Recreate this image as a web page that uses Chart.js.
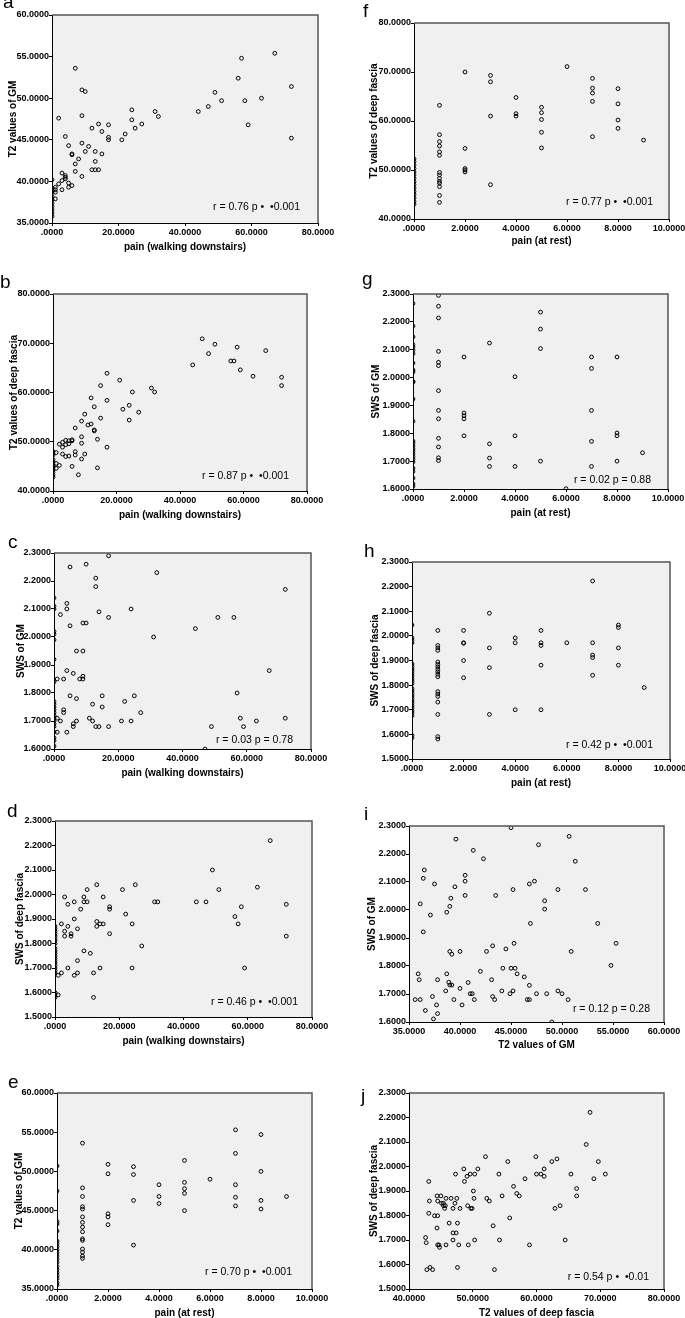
<!DOCTYPE html>
<html>
<head>
<meta charset="utf-8">
<script src="https://cdn.jsdelivr.net/npm/chart.js@4.4.1/dist/chart.umd.min.js"></script>
<style>
	body { margin: 0; background: #fff; }
	#fig { position: relative; width: 685px; height: 1318px; overflow: hidden; }
	.panel { position: absolute; }
	.letter { position: absolute; font: 19px "Liberation Sans", Arial, sans-serif; line-height: 19px; color: #000; }
</style>
</head>
<body>
<div id="fig"></div>
<script>
// --- data ---
// a: pain (walking downstairs) vs T2 of GM
const aWalk = [7,67,57,56,72,9,10,49,51,58, 63,47,44,31,32,24,24,9,2,27, 25,14,17,12,15,59,72,17,17,21, 22,4,5,9,11,6,6,10,13,15, 8,7,13,7,12,13,14,9,3,4, 4,4,3,2,5,6,5,3,1,1, 1,1,0,0,0,0,0,0,0,0, 0,0];
const aT2GM = [53.6,55.4,54.8,52.4,51.4,51.0,50.8,50.7,49.7,49.7, 50.0,49.0,48.4,48.4,47.8,48.6,47.4,47.9,47.6,46.9, 46.4,46.9,46.8,46.4,46.0,46.8,45.2,45.3,45.0,45.0, 45.7,45.4,44.3,44.6,44.2,43.3,43.2,43.6,43.6,43.3, 42.7,42.1,42.4,41.2,41.4,41.4,41.4,40.6,41.0,40.7, 40.5,40.3,40.1,39.7,39.8,39.5,39.3,39.0,39.3,39.0, 38.7,37.9,40.2,39.2,38.7,38.2,37.8,37.4,37.0,36.6, 36.2,35.8];

// b: pain (walking downstairs) vs T2 of deep fascia
const bWalk = [47,51,49,58,67,44,56,57,59,63, 72,72,31,32,17,21,15,25,12,17, 24,22,27,13,10,15,24,9,12,11, 13,13,7,14,9,9,17,10,7,7, 9,14,6,8,3,4,5,6,6,2, 3,4,5,3,4,5,1,2,1,1, 0,0,0,0,0,0,0,0,0,0];
const bT2DF = [70.9,69.8,67.9,69.2,68.5,65.6,66.4,66.4,64.6,63.3, 63.1,61.4,60.9,60.1,63.9,62.5,61.4,60.1,58.9,58.4, 57.4,56.6,56.0,57.1,55.6,54.8,54.4,54.2,53.6,53.4, 52.4,52.2,52.8,50.5,51.0,49.7,48.9,47.5,48.0,47.3, 46.5,44.7,45.0,43.3,49.9,50.3,50.2,50.4,50.2,49.5, 48.9,49.4,49.6,47.5,47.0,47.1,47.8,45.2,45.6,44.6, 48.0,47.3,46.4,45.8,45.3,44.8,44.3,43.8,43.3,42.8];

// c: pain (walking downstairs) vs SWS of GM
const cWalk = [17,10,5,32,13,13,72,4,4,2, 14,24,17,51,56,5,9,10,44,31, 7,9,4,6,1,3,8,9,9,67, 57,5,15,25,7,22,12,15,3,3, 27,11,1,58,72,7,2,12,21,24, 63,6,6,13,14,17,49,59,1,4, 47, 0,0,0,0,0,0,0,0,0,0, 0,0,0,0,0,0,0,0,0,0, 0,0];
const cSWS = [2.29,2.26,2.25,2.23,2.21,2.18,2.17,2.12,2.10,2.08, 2.09,2.10,2.07,2.07,2.07,2.04,2.05,2.05,2.03,2.00, 1.95,1.95,1.88,1.87,1.85,1.85,1.85,1.85,1.86,1.88, 1.80,1.79,1.79,1.79,1.78,1.77,1.76,1.75,1.74,1.73, 1.73,1.71,1.71,1.71,1.71,1.70,1.70,1.70,1.70,1.70, 1.70,1.69,1.68,1.68,1.68,1.68,1.68,1.68,1.66,1.66, 1.60, 2.14,2.11,2.10,2.02,2.01,1.99,1.92,1.84,1.77,1.76, 1.75,1.74,1.73,1.72,1.71,1.70,1.69,1.68,1.66,1.64, 1.63,1.61];

// d: pain (walking downstairs) vs SWS of deep fascia
const dWalk = [67,49,63,51,25,21,13,10,3,9, 15,6,9,10,31,32,44,47,72,4, 17,17,8,58,22,56,6,13,2,14, 15,24,57,13,4,3,7,17,5,5, 3,72,27,9,11,7,4,14,24,59, 7,12,6,2,1,1,12, 0,0,0,0,0,0,0,0,0,0, 0,0,0,0,0,0,0,0,0,0, 0,0];
const dSWS = [2.22,2.10,2.03,2.02,2.04,2.02,2.04,2.02,1.99,1.99, 1.99,1.97,1.97,1.97,1.97,1.97,1.97,1.97,1.96,1.96, 1.95,1.94,1.94,1.95,1.92,1.91,1.90,1.89,1.88,1.88, 1.88,1.88,1.88,1.87,1.87,1.85,1.86,1.84,1.84,1.83, 1.83,1.83,1.79,1.77,1.76,1.73,1.70,1.70,1.70,1.70, 1.68,1.68,1.67,1.68,1.67,1.59,1.58, 1.87,1.86,1.85,1.84,1.83,1.82,1.81,1.80,1.78,1.77, 1.76,1.75,1.74,1.73,1.72,1.71,1.70,1.69,1.68,1.60, 1.59,1.58];

// e: pain (at rest) vs T2 of GM
const eRest = [0,0,0,0,0,0,0,0,0,0, 0,0,0,0,0,0,0,0,0,0, 1,1,1,1,1,1,1,1,1,1, 1,1,1,1,1, 2,2,2,2,2, 3,3,3,3, 4,4,4, 5,5,5,5,5, 6, 7,7,7,7,7, 8,8,8,8, 9];
const eT2GM = [50.7,47.5,43.6,43.3,42.4,41.1,40.8,40.4,40.0,39.6, 39.2,38.8,38.4,37.9,37.5,37.1,36.7,36.3,35.8,35.5, 53.6,47.9,46.8,45.5,45.2,44.2,43.5,42.9,42.3,41.4, 41.2,40.1,39.7,39.2,38.9, 50.9,49.7,44.6,44.2,43.2, 50.6,49.6,46.3,40.6, 48.3,46.8,45.9, 51.4,48.6,47.8,47.2,45.0, 49.0, 55.3,52.3,48.3,46.7,45.6, 54.7,50.0,46.3,45.2, 46.8];

// f: pain (at rest) vs T2 of deep fascia
const fRest = [0,0,0,0,0,0,0,0,0,0, 0,0,0,0,0, 1,1,1,1,1,1,1,1,1,1, 1,1,1,1, 2,2,2,2,2, 3,3,3,3, 4,4,4, 5,5,5,5,5, 6, 7,7,7,7,7, 8,8,8,8, 9];
const fT2DF = [52.3,51.7,51.0,50.3,49.6,49.0,48.3,47.6,47.0,46.3, 45.6,45.0,44.3,43.6,43.0, 63.2,57.2,55.8,54.9,53.7,53.0,49.5,49.0,48.3,47.7, 47.3,46.6,44.8,43.4, 70.0,54.4,50.3,50.0,49.6, 69.3,68.0,61.0,47.0, 64.8,61.5,61.0, 62.8,61.7,60.3,57.7,54.5, 71.1, 68.7,66.7,65.7,64.0,56.8, 66.6,63.5,60.2,58.5, 56.1];

// g: pain (at rest) vs SWS of GM
const gRest = [0,0,0,0,0,0,0,0,0,0, 0,0,0,0,0,0,0,0,0,0, 0,0,0,0,0,0,0,0, 1,1,1,1,1,1,1,1,1,1, 1,1,1, 2,2,2,2,2, 3,3,3,3, 4,4,4, 5,5,5,5, 6, 7,7,7,7,7, 8,8,8,8, 9];
const gSWS = [2.266,2.185,2.146,2.118,2.109,2.098,2.086,2.052,2.027,2.020, 1.986,1.984,1.923,1.843,1.772,1.764,1.754,1.744,1.735,1.726, 1.716,1.706,1.697,1.675,1.663,1.639,1.619,1.610, 2.295,2.256,2.214,2.094,2.055,2.043,1.953,1.882,1.852,1.782, 1.751,1.712,1.702, 2.074,1.873,1.863,1.852,1.791, 2.124,1.762,1.711,1.681, 2.003,1.791,1.681, 2.235,2.174,2.104,1.700, 1.601, 2.074,2.033,1.882,1.771,1.681, 2.074,1.801,1.791,1.700, 1.730];

// h: pain (at rest) vs SWS of deep fascia
const hRest = [0,0,0,0,0,0,0,0,0,0, 0,0,0,0,0,0,0,0,0,0, 0,0,0,0,0,0,0, 1,1,1,1,1,1,1,1,1,1, 1,1,1,1,1,1,1,1, 2,2,2,2,2, 3,3,3,3, 4,4,4, 5,5,5,5,5, 6, 7,7,7,7,7, 8,8,8,8, 9];
const hSWS = [2.044,1.992,1.982,1.972,1.886,1.876,1.866,1.856,1.846,1.836, 1.826,1.816,1.806,1.786,1.776,1.766,1.756,1.746,1.736,1.726, 1.716,1.706,1.696,1.686,1.676,1.596,1.586, 2.022,1.961,1.951,1.941,1.894,1.884,1.874,1.864,1.854,1.844, 1.834,1.774,1.764,1.754,1.731,1.681,1.591,1.581, 2.022,1.972,1.970,1.900,1.830, 2.092,1.951,1.871,1.681, 1.992,1.972,1.700, 2.022,1.972,1.961,1.881,1.700, 1.972, 2.223,1.972,1.922,1.912,1.840, 2.044,2.034,1.951,1.881, 1.790];

// i: T2 of GM vs SWS of GM
const iT2GM = [45.0,50.7,39.6,47.7,41.3,42.3,51.3,36.5,36.4,37.5, 40.5,40.5,39.5,45.2,46.8,47.3,49.6,52.3,40.5,43.5, 39.1,36.1,48.3,48.3,39.0,38.7,37.1,46.9,53.5,36.4, 45.3,55.3,43.2,44.5,42.6,40.0,39.0,39.2,50.9,54.8, 44.2,45.0,45.4,42.0,45.6,35.9,38.7,46.3,36.0,37.8, 43.1,38.9,39.0,39.2,40.8,46.8,38.6,40.0,44.1,45.2, 41.0,41.2,44.9,47.5,48.5,49.6,50.0,43.2,37.3,35.6, 36.1,39.4,41.4,43.4,46.6,46.8,50.6,37.7,40.2,36.6, 37.8,37.4,49.0];
const iSWS = [2.294,2.263,2.253,2.233,2.213,2.183,2.174,2.143,2.113,2.093, 2.124,2.103,2.083,2.073,2.093,2.103,2.073,2.073,2.052,2.052, 2.042,2.022,2.033,2.003,2.013,1.992,1.982,1.952,1.952,1.922, 1.881,1.881,1.872,1.861,1.852,1.852,1.852,1.842,1.852,1.802, 1.792,1.792,1.792,1.781,1.772,1.772,1.772,1.761,1.751,1.751, 1.751,1.742,1.732,1.732,1.741,1.731,1.711,1.720,1.711,1.711, 1.701,1.701,1.701,1.701,1.701,1.711,1.701,1.691,1.691,1.680, 1.680,1.680,1.680,1.680,1.680,1.680,1.680,1.661,1.661,1.641, 1.630,1.611,1.600];

// j: T2 of deep fascia vs SWS of deep fascia
const jT2DF = [68.4,67.8,52.0,59.9,63.2,62.4,69.7,55.5,48.6,50.8, 61.2,47.3,49.6,50.3,54.1,60.0,60.7,65.4,70.8,49.1, 61.2,58.2,69.0,43.1,48.7,56.4,66.3,50.1,56.9,57.3, 54.6,66.3,44.4,45.0,45.8,46.6,47.5,50.2,52.2,52.6, 43.2,44.5,45.1,45.4,47.2,45.4,45.7,49.2,63.7,45.6, 46.9,48.0,49.7,49.9,62.9,43.1,44.0,44.5,55.8,46.3, 47.6,53.2,44.4,46.9,47.4,42.6,46.9,50.3,54.2,64.5, 42.7,44.5,44.7,44.8,45.8,47.8,49.3,58.9,42.8,43.3, 43.7,47.6,53.4];
const jSWS = [2.221,2.090,2.040,2.040,2.031,2.020,2.020,2.020,1.990,1.990, 1.990,1.969,1.969,1.969,1.969,1.969,1.969,1.969,1.969,1.960, 1.960,1.950,1.950,1.939,1.939,1.919,1.910,1.900,1.890,1.880, 1.880,1.880,1.880,1.880,1.870,1.870,1.870,1.870,1.870,1.859, 1.859,1.859,1.850,1.850,1.850,1.840,1.840,1.840,1.840,1.829, 1.829,1.829,1.829,1.829,1.829,1.809,1.799,1.799,1.790,1.769, 1.769,1.758,1.749,1.729,1.729,1.710,1.700,1.700,1.700,1.700, 1.689,1.680,1.680,1.670,1.680,1.680,1.680,1.680,1.579,1.588, 1.579,1.588,1.579];

// axis ranges [min, max, step]
const walkAxis = [0, 80, 20];
const restAxis = [0, 10, 2];
const t2gmAxis = [35, 60, 5];
const t2dfAxis = [40, 80, 10];
const swsGmAxis = [1.6, 2.3, 0.1];
const swsDfAxis = [1.5, 2.3, 0.1];

const stats = {
	a: "r = 0.76 p \u2022  \u20220.001",
	b: "r = 0.87 p \u2022  \u20220.001",
	c: "r = 0.03 p = 0.78",
	d: "r = 0.46 p \u2022  \u20220.001",
	e: "r = 0.70 p \u2022  \u20220.001",
	f: "r = 0.77 p \u2022  \u20220.001",
	g: "r = 0.02 p = 0.88",
	h: "r = 0.42 p \u2022  \u20220.001",
	i: "r = 0.12 p = 0.28",
	j: "r = 0.54 p \u2022  \u20220.01",
};

const panels = [
	{ id: "a", xs: aWalk, ys: aT2GM, xAx: walkAxis, yAx: t2gmAxis, xt: "pain (walking downstairs)", yt: "T2 values of GM" },
	{ id: "b", xs: bWalk, ys: bT2DF, xAx: walkAxis, yAx: t2dfAxis, xt: "pain (walking downstairs)", yt: "T2 values of deep fascia" },
	{ id: "c", xs: cWalk, ys: cSWS, xAx: walkAxis, yAx: swsGmAxis, xt: "pain (walking downstairs)", yt: "SWS of GM" },
	{ id: "d", xs: dWalk, ys: dSWS, xAx: walkAxis, yAx: swsDfAxis, xt: "pain (walking downstairs)", yt: "SWS of deep fascia" },
	{ id: "e", xs: eRest, ys: eT2GM, xAx: restAxis, yAx: t2gmAxis, xt: "pain (at rest)", yt: "T2 values of GM" },
	{ id: "f", xs: fRest, ys: fT2DF, xAx: restAxis, yAx: t2dfAxis, xt: "pain (at rest)", yt: "T2 values of deep fascia" },
	{ id: "g", xs: gRest, ys: gSWS, xAx: restAxis, yAx: swsGmAxis, xt: "pain (at rest)", yt: "SWS of GM" },
	{ id: "h", xs: hRest, ys: hSWS, xAx: restAxis, yAx: swsDfAxis, xt: "pain (at rest)", yt: "SWS of deep fascia" },
	{ id: "i", xs: iT2GM, ys: iSWS, xAx: t2gmAxis, yAx: swsGmAxis, xt: "T2 values of GM", yt: "SWS of GM" },
	{ id: "j", xs: jT2DF, ys: jSWS, xAx: t2dfAxis, yAx: swsDfAxis, xt: "T2 values of deep fascia", yt: "SWS of deep fascia" },
];

// plot boxes on the page (L,T,R,B), title offsets, stat text offsets, panel letter spot
const layout = {
	a: { L: 52, T: 15, R: 318, B: 223, yo: 39, xo: 24, sx: 18, sy: 13, lx: 3, lb: 8 },
	b: { L: 53, T: 294, R: 307, B: 491, yo: 39, xo: 24, sx: 18, sy: 12, lx: 0, lb: 288 },
	c: { L: 54, T: 553, R: 311, B: 749, yo: 33, xo: 24, sx: 18, sy: 6, lx: 8, lb: 548 },
	d: { L: 55, T: 821, R: 312, B: 1017, yo: 35, xo: 24, sx: 14, sy: 12, lx: 7, lb: 817 },
	e: { L: 57, T: 1093, R: 312, B: 1289, yo: 38, xo: 24, sx: 20, sy: 14, lx: 8, lb: 1088 },
	f: { L: 414, T: 23, R: 669, B: 219, yo: 40, xo: 22, sx: 16, sy: 14, lx: 363, lb: 17 },
	g: { L: 413, T: 294, R: 668, B: 489, yo: 37, xo: 24, sx: 17, sy: 6, lx: 362, lb: 285 },
	h: { L: 412, T: 562, R: 670, B: 759, yo: 37, xo: 24, sx: 17, sy: 11, lx: 364, lb: 557 },
	i: { L: 409, T: 826, R: 664, B: 1022, yo: 37, xo: 23, sx: 14, sy: 10, lx: 364, lb: 820 },
	j: { L: 409, T: 1093, R: 664, B: 1289, yo: 35, xo: 24, sx: 15, sy: 9, lx: 361, lb: 1102 },
};

const FAMILY = '"Liberation Sans", Arial, Helvetica, sans-serif';
const tickFont = { family: FAMILY, size: 9, weight: "bold" };
const titleFont = { family: FAMILY, size: 10, weight: "bold" };
const PAD_T = 10, PAD_R = 22;

const fmt = (v) => (Math.abs(v) < 1e-9 ? ".0000" : Number(v).toFixed(4));

// grey plot box, dark frame on top/right, r/p note
const framePlugin = {
	id: "frame",
	beforeDraw(chart) {
		const { ctx, chartArea: a } = chart;
		ctx.save();
		ctx.fillStyle = "#f0f0f0";
		ctx.fillRect(a.left, a.top, a.right - a.left, a.bottom - a.top);
		ctx.restore();
	},
	afterDraw(chart, args, opts) {
		const { ctx, chartArea: a } = chart;
		ctx.save();
		ctx.strokeStyle = "#555";
		ctx.lineWidth = 1.5;
		ctx.beginPath();
		ctx.moveTo(a.left, a.top);
		ctx.lineTo(a.right, a.top);
		ctx.lineTo(a.right, a.bottom);
		ctx.stroke();
		ctx.font = "10.5px " + FAMILY;
		ctx.fillStyle = "#000";
		ctx.textAlign = "right";
		ctx.textBaseline = "alphabetic";
		ctx.fillText(opts.text, a.right - opts.dx, a.bottom - opts.dy);
		ctx.restore();
	},
};

const fig = document.getElementById("fig");

panels.forEach((p) => {
	const g = layout[p.id];
	const W = g.yo + 6; // y scale width so the title centre sits yo left of the axis
	const H = g.xo + 6; // x scale height so the title centre sits xo below the axis
	const w = W + (g.R - g.L) + PAD_R;
	const h = PAD_T + (g.B - g.T) + H;

	const box = document.createElement("div");
	box.className = "panel";
	box.style.left = g.L - W + "px";
	box.style.top = g.T - PAD_T + "px";
	const cv = document.createElement("canvas");
	cv.width = w;
	cv.height = h;
	cv.style.width = w + "px";
	cv.style.height = h + "px";
	box.appendChild(cv);
	fig.appendChild(box);

	const letter = document.createElement("div");
	letter.className = "letter";
	letter.textContent = p.id;
	letter.style.left = g.lx + "px";
	letter.style.top = g.lb - 16 + "px";
	fig.appendChild(letter);

	new Chart(cv, {
		type: "scatter",
		data: {
			datasets: [
				{
					data: p.xs.map((x, k) => ({ x, y: p.ys[k] })),
					pointRadius: 1.9,
					pointBorderWidth: 1,
					borderColor: "#000",
					backgroundColor: "rgba(0,0,0,0)",
				},
			],
		},
		plugins: [framePlugin],
		options: {
			responsive: false,
			animation: false,
			events: [],
			layout: { padding: { top: PAD_T, right: PAD_R, left: 0, bottom: 0 } },
			plugins: {
				legend: { display: false },
				tooltip: { enabled: false },
				frame: { text: stats[p.id], dx: g.sx, dy: g.sy },
			},
			scales: {
				x: {
					type: "linear",
					min: p.xAx[0],
					max: p.xAx[1],
					ticks: { stepSize: p.xAx[2], callback: fmt, font: tickFont, color: "#000", padding: 1, maxRotation: 0 },
					grid: { drawOnChartArea: false, tickLength: 3, color: "#000" },
					border: { color: "#000", width: 1 },
					title: { display: true, text: p.xt, font: titleFont, color: "#000", padding: 0 },
					afterFit: (s) => { s.height = H; },
				},
				y: {
					type: "linear",
					min: p.yAx[0],
					max: p.yAx[1],
					ticks: { stepSize: p.yAx[2], callback: fmt, font: tickFont, color: "#000", padding: 0 },
					grid: { drawOnChartArea: false, tickLength: 3, color: "#000" },
					border: { color: "#000", width: 1 },
					title: { display: true, text: p.yt, font: titleFont, color: "#000", padding: 0 },
					afterFit: (s) => { s.width = W; },
				},
			},
		},
	});
});
</script>
</body>
</html>
